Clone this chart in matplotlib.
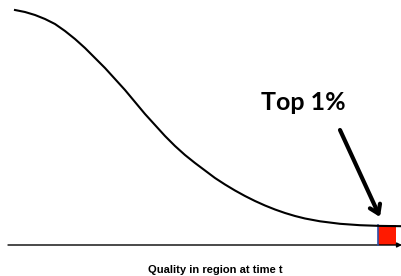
import matplotlib
matplotlib.use('Agg')
import matplotlib.pyplot as plt
from matplotlib.patches import Rectangle

# Curve (x = quality, y = density above the axis)
quality = [15, 25, 35, 45, 55, 65, 75, 85, 95, 105, 115, 125, 135, 145, 155,
           165, 175, 185, 195, 205, 215, 225, 235, 245, 255, 265, 275, 285,
           295, 305, 320, 340, 360, 380, 402]
density = [235, 233, 230, 226, 221, 214, 206, 197, 187, 177, 166, 155, 143,
           131, 120, 109, 99, 90, 82, 74.5, 67, 60.5, 54.5, 49, 44, 39.5,
           35.5, 32, 29, 26.5, 23.7, 21.2, 19.8, 19.1, 18.8]

top_label = 'Top 1%'
x_label = 'Quality in region at time t'
top_start, top_end = 378, 396
top_height = 20

fig = plt.figure(figsize=(4.02, 2.76), dpi=100)
ax = fig.add_axes([0, 0, 1, 1])
ax.set_xlim(0, 402)
ax.set_ylim(-31, 245)
ax.axis('off')

# Horizontal axis with arrow head
ax.annotate('', xy=(402, 0), xytext=(8, 0),
            arrowprops=dict(arrowstyle='-|>', color='black', lw=1.0,
                            mutation_scale=7, shrinkA=0, shrinkB=0))

# Top 1% block
ax.add_patch(Rectangle((top_start, 0), top_end - top_start, top_height,
                       facecolor='#ff1a00', edgecolor='none', zorder=2))
ax.plot([top_start, top_start], [0, top_height], color='#2a4fa8', lw=1.2, zorder=3)

ax.plot(quality, density, color='black', lw=1.5, solid_joinstyle='round', zorder=4)

# Pointer arrow
ax.annotate('', xy=(380, 28), xytext=(340, 115),
            arrowprops=dict(arrowstyle='->,head_length=0.6,head_width=0.4',
                            color='black', lw=3, shrinkA=0, shrinkB=0))

ax.text(303, 142, top_label, ha='center', va='center', fontsize=18,
        fontweight='bold', family='Lato')
ax.text(215, -25, x_label, ha='center', va='center', fontsize=8,
        fontweight='bold', family='Liberation Sans')

fig.savefig('out.png', dpi=100)
